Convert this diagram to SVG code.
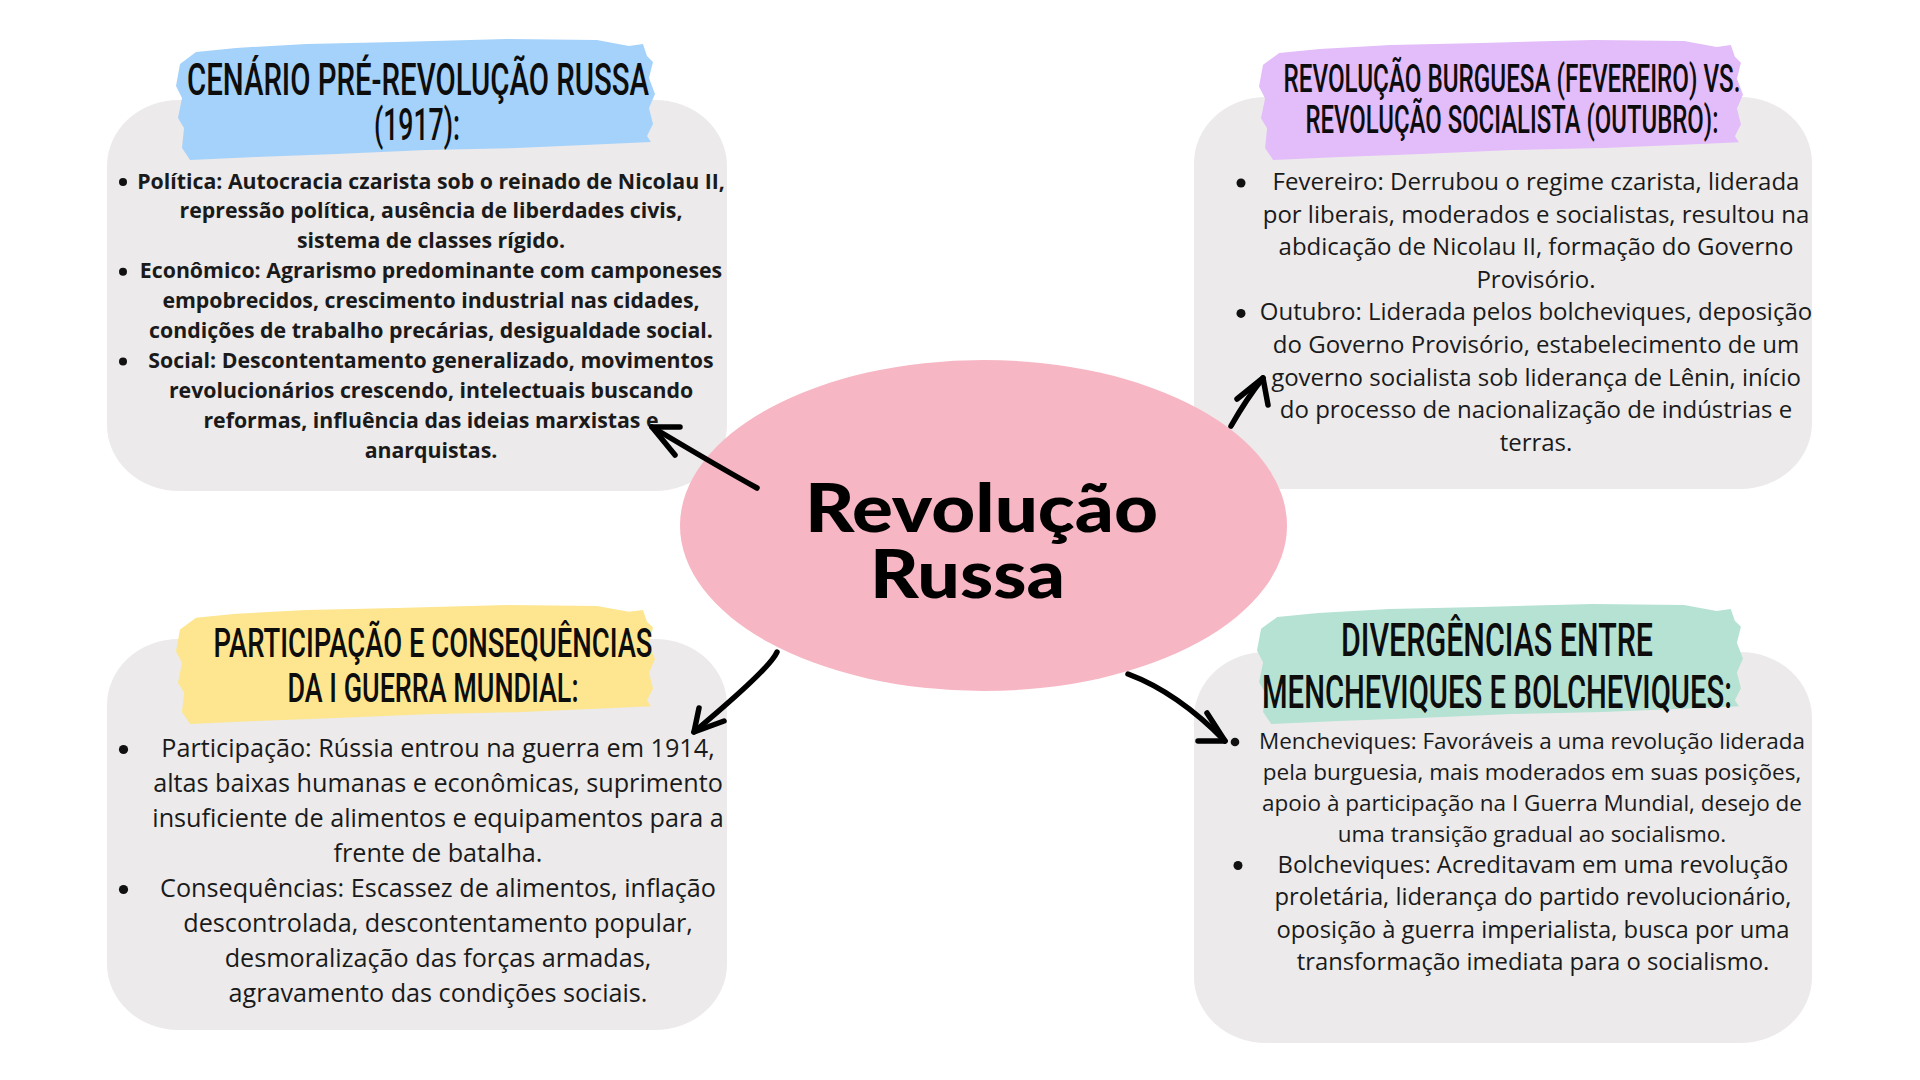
<svg xmlns="http://www.w3.org/2000/svg" xmlns:xlink="http://www.w3.org/1999/xlink" width="1920" height="1080" viewBox="0 0 1920 1080">
<defs>
<style>
.box{fill:#ECEAEB}
.ttl{font-family:Roboto,"Liberation Sans",sans-serif;font-weight:500;fill:#0d0d0d;text-anchor:middle}
.body{font-family:"Open Sans","Noto Sans",sans-serif;fill:#1a1a1a;text-anchor:middle}
.dot{fill:#111}
.arr{fill:none;stroke:#000;stroke-width:5.5;stroke-linecap:round;stroke-linejoin:round}
.main{font-family:Lato,"Liberation Sans",sans-serif;font-weight:900;fill:#000}
</style>
<symbol id="brush" viewBox="0 0 480 122" preserveAspectRatio="none">
<path d="M4 26 L20 14 L60 10 L130 6 L220 4 L330 1 L420 2 L452 8 L466 6 L470 18 L476 24 L472 40 L478 56 L472 70 L476 86 L470 98 L474 104 L430 106 L340 110 L250 112 L160 116 L80 119 L14 122 L6 110 L8 90 L2 80 L6 60 L0 48 Z"/>
</symbol>
</defs>
<rect width="1920" height="1080" fill="#ffffff"/>

<g id="node-pre">
<rect class="box" x="107" y="100" width="620" height="391" rx="72" ry="66"/>
<use xlink:href="#brush" href="#brush" x="176" y="38" width="481" height="122" fill="#A5D2FA"/>
<text class="ttl" font-size="45" x="418" y="95" textLength="462" lengthAdjust="spacingAndGlyphs">CENÁRIO PRÉ-REVOLUÇÃO RUSSA</text>
<text class="ttl" font-size="45" x="417" y="140" textLength="86" lengthAdjust="spacingAndGlyphs">(1917):</text>
<g class="body" font-size="21.3" font-weight="700">
<text x="431" y="188.5">Política: Autocracia czarista sob o reinado de Nicolau II,</text>
<text x="431" y="218.4">repressão política, ausência de liberdades civis,</text>
<text x="431" y="248.3">sistema de classes rígido.</text>
<text x="431" y="278.2">Econômico: Agrarismo predominante com camponeses</text>
<text x="431" y="308.1">empobrecidos, crescimento industrial nas cidades,</text>
<text x="431" y="338">condições de trabalho precárias, desigualdade social.</text>
<text x="431" y="367.9">Social: Descontentamento generalizado, movimentos</text>
<text x="431" y="397.8">revolucionários crescendo, intelectuais buscando</text>
<text x="431" y="427.7">reformas, influência das ideias marxistas e</text>
<text x="431" y="457.6">anarquistas.</text>
</g>
<circle class="dot" cx="123" cy="182" r="4"/>
<circle class="dot" cx="123" cy="271.7" r="4"/>
<circle class="dot" cx="123" cy="361.4" r="4"/>
</g>

<g id="node-fev-out">
<rect class="box" x="1194" y="97" width="618" height="392" rx="72" ry="66"/>
<use xlink:href="#brush" href="#brush" x="1259" y="39" width="486" height="121" fill="#E3BCFA"/>
<text class="ttl" font-size="39" x="1512" y="92" textLength="457" lengthAdjust="spacingAndGlyphs">REVOLUÇÃO BURGUESA (FEVEREIRO) VS.</text>
<text class="ttl" font-size="39" x="1512" y="133" textLength="413" lengthAdjust="spacingAndGlyphs">REVOLUÇÃO SOCIALISTA (OUTUBRO):</text>
<g class="body" font-size="24">
<text x="1536" y="190">Fevereiro: Derrubou o regime czarista, liderada</text>
<text x="1536" y="222.6">por liberais, moderados e socialistas, resultou na</text>
<text x="1536" y="255.2">abdicação de Nicolau II, formação do Governo</text>
<text x="1536" y="287.8">Provisório.</text>
<text x="1536" y="320.4">Outubro: Liderada pelos bolcheviques, deposição</text>
<text x="1536" y="353">do Governo Provisório, estabelecimento de um</text>
<text x="1536" y="385.6">governo socialista sob liderança de Lênin, início</text>
<text x="1536" y="418.2">do processo de nacionalização de indústrias e</text>
<text x="1536" y="450.8">terras.</text>
</g>
<circle class="dot" cx="1241" cy="183" r="4.5"/>
<circle class="dot" cx="1241" cy="313.4" r="4.5"/>
</g>

<g id="node-guerra">
<rect class="box" x="107" y="639" width="620" height="391" rx="72" ry="66"/>
<use xlink:href="#brush" href="#brush" x="176" y="604" width="481" height="120" fill="#FDE68F"/>
<text class="ttl" font-size="40" x="433" y="657" textLength="439" lengthAdjust="spacingAndGlyphs">PARTICIPAÇÃO E CONSEQUÊNCIAS</text>
<text class="ttl" font-size="40" x="433" y="702" textLength="291" lengthAdjust="spacingAndGlyphs">DA I GUERRA MUNDIAL:</text>
<g class="body" font-size="25.2">
<text x="438" y="757">Participação: Rússia entrou na guerra em 1914,</text>
<text x="438" y="792">altas baixas humanas e econômicas, suprimento</text>
<text x="438" y="827">insuficiente de alimentos e equipamentos para a</text>
<text x="438" y="862">frente de batalha.</text>
<text x="438" y="897">Consequências: Escassez de alimentos, inflação</text>
<text x="438" y="932">descontrolada, descontentamento popular,</text>
<text x="438" y="967">desmoralização das forças armadas,</text>
<text x="438" y="1002">agravamento das condições sociais.</text>
</g>
<circle class="dot" cx="123.5" cy="749.5" r="4.6"/>
<circle class="dot" cx="123.5" cy="889.5" r="4.6"/>
</g>

<g id="node-div">
<rect class="box" x="1194" y="652" width="618" height="391" rx="72" ry="66"/>
<use xlink:href="#brush" href="#brush" x="1257" y="603" width="488" height="121" fill="#B5E2D3"/>
<text class="ttl" font-size="46" x="1497" y="656" textLength="312" lengthAdjust="spacingAndGlyphs">DIVERGÊNCIAS ENTRE</text>
<text class="ttl" font-size="46" x="1497" y="708" textLength="470" lengthAdjust="spacingAndGlyphs">MENCHEVIQUES E BOLCHEVIQUES:</text>
<g class="body" font-size="22.5">
<text x="1532" y="749">Mencheviques: Favoráveis a uma revolução liderada</text>
<text x="1532" y="780">pela burguesia, mais moderados em suas posições,</text>
<text x="1532" y="811">apoio à participação na I Guerra Mundial, desejo de</text>
<text x="1532" y="842">uma transição gradual ao socialismo.</text>
</g>
<g class="body" font-size="23.8">
<text x="1533" y="872.5">Bolcheviques: Acreditavam em uma revolução</text>
<text x="1533" y="905">proletária, liderança do partido revolucionário,</text>
<text x="1533" y="937.5">oposição à guerra imperialista, busca por uma</text>
<text x="1533" y="970">transformação imediata para o socialismo.</text>
</g>
<circle class="dot" cx="1235" cy="742" r="4.3"/>
<circle class="dot" cx="1238" cy="865.5" r="4.5"/>
</g>

<g id="node-center">
<ellipse cx="983.5" cy="525.5" rx="303.5" ry="165.5" fill="#F7B6C3"/>
<text class="main" font-size="67" x="805" y="532" textLength="353" lengthAdjust="spacingAndGlyphs">Revolução</text>
<text class="main" font-size="67" x="870" y="598" textLength="195" lengthAdjust="spacingAndGlyphs">Russa</text>
</g>

<g id="connectors">
<path class="arr" d="M757 488 Q721.5 468.5 652 427"/>
<path class="arr" d="M680 427 L652 427 L675 455"/>
<path class="arr" d="M1231 426 Q1247 398 1263 378"/>
<path class="arr" d="M1237 399 L1263 378 L1268 405"/>
<path class="arr" d="M777 652 Q770.5 668 694 732"/>
<path class="arr" d="M699 708 L694 732 L724 721"/>
<path class="arr" d="M1128 674 Q1177.5 692.5 1225 741"/>
<path class="arr" d="M1207 713 L1225 741 L1198 741"/>
</g>
</svg>
